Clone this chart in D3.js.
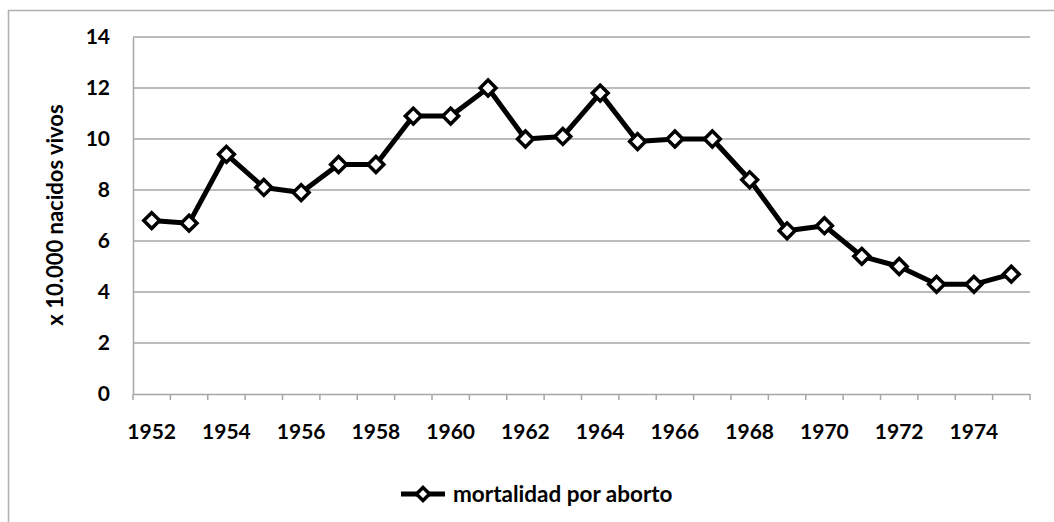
<!DOCTYPE html>
<html>
<head>
    <meta charset="utf-8">
    <title>Mortalidad por aborto</title>
    <script src="https://d3js.org/d3.v7.min.js"></script>
    <style>
        body { margin: 0; background: #fff; }
        text { font-family: Lato, "Open Sans", sans-serif; font-weight: bold; fill: #000; }
    </style>
</head>
<body>
<div id="chart"></div>
<script type="text/javascript">
    // datos
    let years = [1952, 1953, 1954, 1955, 1956, 1957, 1958, 1959, 1960, 1961, 1962, 1963,
                 1964, 1965, 1966, 1967, 1968, 1969, 1970, 1971, 1972, 1973, 1974, 1975];
    let mortalidad = [6.8, 6.7, 9.4, 8.1, 7.9, 9.0, 9.0, 10.9, 10.9, 12.0, 10.0, 10.1,
                      11.8, 9.9, 10.0, 10.0, 8.4, 6.4, 6.6, 5.4, 5.0, 4.3, 4.3, 4.7];
    let yTicks = [0, 2, 4, 6, 8, 10, 12, 14];
    let seriesName = "mortalidad por aborto";
    let yLabel = "x 10.000 nacidos vivos";

    let width = 1054, height = 522;
    let margin = {top: 37, right: 24, bottom: 128, left: 133};
    let w = width - margin.left - margin.right;
    let h = height - margin.top - margin.bottom;

    let svg = d3.select("#chart")
        .append("svg")
            .attr("width", width)
            .attr("height", height);

    // marco exterior (solo visible arriba e izquierda)
    svg.append("rect")
        .attr("x", 8.5).attr("y", 10.5)
        .attr("width", 1200).attr("height", 800)
        .attr("fill", "none")
        .attr("stroke", "#b0b0b0")
        .attr("stroke-width", 1.5);

    let g = svg.append("g")
        .attr("transform", "translate(" + margin.left + "," + margin.top + ")");

    let xScale = d3.scaleBand()
        .domain(years)
        .range([0, w]);

    let yScale = d3.scaleLinear()
        .domain([0, 14])
        .range([h, 0]);

    // lineas de la grilla
    g.append("g")
        .selectAll("line")
        .data(yTicks.filter(d => d > 0))
        .enter()
        .append("line")
        .attr("x1", 0).attr("x2", w)
        .attr("y1", d => yScale(d)).attr("y2", d => yScale(d))
        .attr("stroke", "#a6a6a6")
        .attr("stroke-width", 1.5);

    // eje y
    let yAxis = d3.axisLeft(yScale).tickValues(yTicks).tickSize(0).tickPadding(23);
    let yg = g.append("g").call(yAxis);
    yg.select(".domain").attr("stroke", "#a6a6a6").attr("stroke-width", 1.5);
    yg.selectAll("text").attr("font-size", "21px");

    // eje x
    let xAxis = d3.axisBottom(xScale)
        .tickSize(0)
        .tickPadding(30)
        .tickFormat(d => (d % 2 === 0 ? d : ""));
    let xg = g.append("g")
        .attr("transform", "translate(0," + h + ")")
        .call(xAxis);
    xg.select(".domain").attr("stroke", "#a6a6a6").attr("stroke-width", 1.5);
    xg.selectAll("text").attr("font-size", "21px");

    // marcas de division entre categorias
    xg.append("g")
        .selectAll("line")
        .data(years.concat([null]))
        .enter()
        .append("line")
        .attr("x1", (d, i) => i * xScale.step())
        .attr("x2", (d, i) => i * xScale.step())
        .attr("y1", 0).attr("y2", 6)
        .attr("stroke", "#a6a6a6")
        .attr("stroke-width", 1.5);

    // linea
    let line = d3.line()
        .x((d, i) => xScale(years[i]) + xScale.bandwidth() / 2)
        .y(d => yScale(d));

    g.append("path")
        .datum(mortalidad)
        .attr("fill", "none")
        .attr("stroke", "#000")
        .attr("stroke-width", 5)
        .attr("stroke-linejoin", "round")
        .attr("d", line);

    let diamond = d3.symbol().type(d3.symbolDiamond2).size(160);

    g.selectAll(".punto")
        .data(mortalidad)
        .enter()
        .append("path")
        .attr("class", "punto")
        .attr("transform", (d, i) => "translate(" + (xScale(years[i]) + xScale.bandwidth() / 2) + "," + yScale(d) + ")")
        .attr("d", diamond)
        .attr("fill", "#fff")
        .attr("stroke", "#000")
        .attr("stroke-width", 3.5);

    // titulo del eje y
    svg.append("text")
        .attr("transform", "translate(63,215) rotate(-90)")
        .style("text-anchor", "middle")
        .attr("font-size", "22px")
        .text(yLabel);

    // leyenda
    let lg = svg.append("g").attr("transform", "translate(401,494)");
    lg.append("line")
        .attr("x1", 0).attr("x2", 44)
        .attr("y1", 0).attr("y2", 0)
        .attr("stroke", "#000")
        .attr("stroke-width", 5);
    lg.append("path")
        .attr("transform", "translate(22,0)")
        .attr("d", d3.symbol().type(d3.symbolDiamond2).size(110))
        .attr("fill", "#fff")
        .attr("stroke", "#000")
        .attr("stroke-width", 3.5);
    lg.append("text")
        .attr("x", 52)
        .attr("y", 8)
        .attr("font-size", "22.5px")
        .text(seriesName);
</script>
</body>
</html>
